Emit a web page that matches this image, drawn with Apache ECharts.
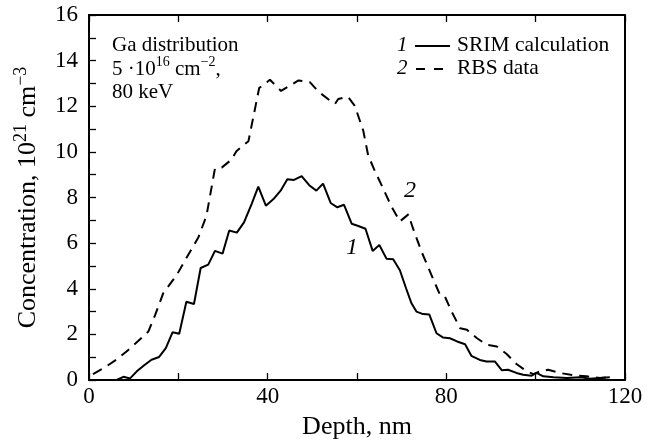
<!DOCTYPE html>
<html><head><meta charset="utf-8">
<script src="https://cdn.jsdelivr.net/npm/echarts@6/dist/echarts.min.js"></script>
<style>html,body{margin:0;padding:0;background:#fff}#c{width:656px;height:445px}</style>
</head><body><div id="c"></div>
<script>
const srimDepth = [5.5, 6.2, 7.7, 9.2, 10.7, 12.5, 14.0, 15.7, 17.2, 18.7, 20.2, 21.8, 23.5, 25.0, 26.7, 28.2, 29.9, 31.4, 33.1, 34.7, 36.4, 37.9, 39.6, 41.3, 42.9, 44.4, 45.9, 47.6, 49.3, 50.9, 52.4, 54.1, 55.6, 57.1, 58.8, 60.3, 61.9, 63.5, 65.0, 66.6, 68.1, 69.6, 71.0, 72.2, 73.3, 74.8, 76.2, 77.8, 79.3, 80.8, 82.4, 84.2, 85.6, 87.5, 89.0, 90.9, 92.4, 93.8, 95.7, 97.2, 99.1, 100.2, 101.7, 104.0, 107.0, 110.0, 112.1, 114.4, 116.6];
const srimConc = [0.0, 0.0, 0.14, 0.07, 0.38, 0.67, 0.89, 1.01, 1.40, 2.09, 2.03, 3.43, 3.33, 4.91, 5.06, 5.66, 5.54, 6.55, 6.46, 6.91, 7.71, 8.48, 7.64, 7.93, 8.30, 8.80, 8.77, 8.94, 8.54, 8.30, 8.61, 7.76, 7.57, 7.68, 6.85, 6.75, 6.63, 5.66, 5.92, 5.32, 5.29, 4.81, 4.01, 3.36, 3.00, 2.89, 2.87, 2.05, 1.86, 1.83, 1.69, 1.57, 1.06, 0.88, 0.81, 0.81, 0.43, 0.45, 0.31, 0.23, 0.19, 0.31, 0.16, 0.12, 0.09, 0.12, 0.06, 0.09, 0.12];
const rbsDepth = [0.9, 3.6, 6.2, 8.4, 11.0, 13.3, 14.8, 16.6, 19.6, 21.9, 24.5, 26.3, 28.2, 29.7, 31.9, 33.0, 35.7, 38.1, 40.5, 43.0, 46.9, 49.5, 51.3, 53.9, 55.1, 55.8, 58.0, 59.5, 61.4, 62.5, 64.0, 65.5, 67.7, 69.6, 71.5, 72.6, 74.5, 76.7, 78.6, 79.7, 81.2, 83.1, 84.6, 86.8, 89.0, 91.3, 93.5, 95.7, 98.0, 99.5, 101.0, 102.8, 105.4, 108.4, 111.4, 114.4, 117.0];
const rbsConc = [0.26, 0.56, 0.90, 1.25, 1.71, 2.13, 2.84, 3.80, 4.59, 5.38, 6.26, 7.20, 9.27, 9.31, 9.66, 10.03, 10.47, 12.80, 13.16, 12.67, 13.13, 13.05, 12.65, 12.26, 12.11, 12.32, 12.41, 12.02, 10.93, 9.84, 9.16, 8.54, 7.61, 6.95, 7.26, 6.61, 5.60, 4.59, 3.72, 3.65, 2.99, 2.27, 2.20, 1.84, 1.55, 1.47, 1.14, 0.70, 0.38, 0.26, 0.38, 0.45, 0.31, 0.21, 0.16, 0.09, 0.12];
const xTicks = [0, 40, 80, 120];
const yTicks = [0, 2, 4, 6, 8, 10, 12, 14, 16];

const F = '"Liberation Serif", "DejaVu Serif", serif';
const chart = echarts.init(document.getElementById('c'), null, {renderer: 'canvas'});
function ax(extra, ticks) {
  return Object.assign({
    axisLine: {show: true, onZero: false, lineStyle: {color: '#000', width: 2}},
    axisTick: {show: ticks, inside: true, length: 7, lineStyle: {color: '#000', width: 1.3}},
    splitLine: {show: false}
  }, extra);
}
const supRich = {
  n: {fontFamily: F, fontSize: 21, lineHeight: 28, color: '#000'},
  s: {fontFamily: F, fontSize: 14, lineHeight: 14, verticalAlign: 'top', color: '#000'}
};
chart.setOption({
  animation: false,
  backgroundColor: '#fff',
  grid: {left: 89, right: 31, top: 15, bottom: 63, containLabel: false},
  xAxis: [
    ax({type: 'value', min: 0, max: 120, interval: 20, position: 'bottom',
      name: 'Depth, nm', nameLocation: 'middle', nameGap: 34,
      nameTextStyle: {fontFamily: F, fontSize: 26, color: '#000'},
      axisLabel: {fontFamily: F, fontSize: 23, color: '#000', margin: 5,
        formatter: v => xTicks.indexOf(v) >= 0 ? String(v) : ''}}, true),
    ax({type: 'value', min: 0, max: 120, interval: 20, position: 'top',
      axisLabel: {show: false}}, true)
  ],
  yAxis: [
    ax({type: 'value', min: 0, max: 16, interval: 1, position: 'left',
      name: 'Concentration, 10{s|21} cm{s|−3}', nameLocation: 'middle', nameGap: 44,
      nameTextStyle: {fontFamily: F, fontSize: 26, lineHeight: 32, color: '#000',
        rich: {s: {fontFamily: F, fontSize: 18, lineHeight: 18, verticalAlign: 'top', color: '#000'}}},
      axisLabel: {fontFamily: F, fontSize: 23, color: '#000', margin: 11,
        formatter: v => yTicks.indexOf(v) >= 0 ? String(v) : ''}}, true),
    ax({type: 'value', min: 0, max: 16, interval: 1, position: 'right',
      axisLabel: {show: false}}, false)
  ],
  series: [
    {type: 'line', name: 'SRIM calculation', data: srimDepth.map((d, i) => [d, srimConc[i]]),
     showSymbol: false, lineStyle: {color: '#000', width: 2}, z: 3},
    {type: 'line', name: 'RBS data', data: rbsDepth.map((d, i) => [d, rbsConc[i]]),
     showSymbol: false, lineStyle: {color: '#000', width: 2, type: [10, 7]}, z: 3}
  ],
  graphic: [
    {type: 'text', x: 112, y: 45, style: {text: 'Ga distribution', font: '21px ' + F, fill: '#000', verticalAlign: 'middle'}},
    {type: 'text', x: 112, y: 69, style: {
      text: '{n|5 ·10}{s|16}{n| cm}{s|−2}{n|,}', fill: '#000', verticalAlign: 'middle', rich: supRich}},
    {type: 'text', x: 112, y: 92, style: {text: '80 keV', font: '21px ' + F, fill: '#000', verticalAlign: 'middle'}},
    {type: 'text', x: 397, y: 45, style: {text: '1', font: 'italic 21px ' + F, fill: '#000', verticalAlign: 'middle'}},
    {type: 'line', shape: {x1: 415, y1: 46, x2: 450, y2: 46}, style: {stroke: '#000', lineWidth: 2}},
    {type: 'text', x: 457, y: 45, style: {text: 'SRIM calculation', font: '21.5px ' + F, fill: '#000', verticalAlign: 'middle'}},
    {type: 'text', x: 397, y: 68, style: {text: '2', font: 'italic 21px ' + F, fill: '#000', verticalAlign: 'middle'}},
    {type: 'line', shape: {x1: 416, y1: 69, x2: 443, y2: 69}, style: {stroke: '#000', lineWidth: 2, lineDash: [9, 9]}},
    {type: 'text', x: 457, y: 68, style: {text: 'RBS data', font: '21.5px ' + F, fill: '#000', verticalAlign: 'middle'}},
    {type: 'text', x: 410, y: 191, style: {text: '2', font: 'italic 24px ' + F, fill: '#000', align: 'center', verticalAlign: 'middle'}},
    {type: 'text', x: 352, y: 248, style: {text: '1', font: 'italic 24px ' + F, fill: '#000', align: 'center', verticalAlign: 'middle'}}
  ]
});
</script></body></html>
